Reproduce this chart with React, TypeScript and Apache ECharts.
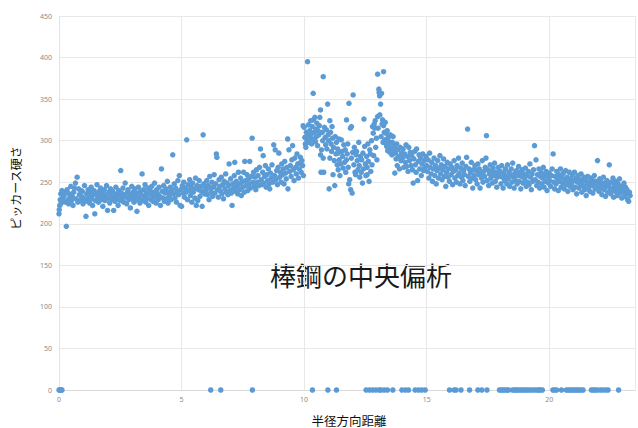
import React, { useEffect, useRef } from "react";
import * as echarts from "echarts";

const TITLE = "棒鋼の中央偏析";
const X_NAME = "半径方向距離";
const Y_NAME = "ピッカース硬さ";
const X_MIN = 0;
const X_MAX = 23.5;
const X_STEP = 5;
const Y_MIN = 0;
const Y_MAX = 450;
const Y_STEP = 50;

// hardness readings, radial distance 0 - 5
const pointsA: number[][] = [
  [0.00,212],[0.01,217],[0.03,222],[0.05,229],[0.07,236],[0.09,225],[0.12,240],[0.15,231],[0.18,227],[0.21,234],[0.24,238],[0.27,226],[0.30,197],[0.33,241],[0.36,229],[0.39,224],[0.42,236],[0.45,232],[0.48,245],[0.51,228],[0.54,233],[0.57,222],[0.60,238],[0.63,243],[0.67,249],[0.70,230],[0.74,256],[0.77,226],[0.80,242],[0.83,235],[0.86,228],[0.89,240],[0.92,233],[0.95,239],[0.98,224],
  [1.01,231],[1.04,246],[1.07,227],[1.10,209],[1.13,236],[1.16,229],[1.19,241],[1.22,233],[1.25,225],[1.28,238],[1.31,244],[1.34,230],[1.37,222],[1.40,235],[1.43,240],[1.46,212],[1.49,228],[1.52,236],[1.55,247],[1.58,232],[1.61,226],[1.64,239],[1.67,234],[1.70,243],[1.73,229],[1.76,237],[1.79,221],[1.82,233],[1.85,241],[1.88,228],[1.91,235],[1.94,246],[1.98,216],
  [2.01,231],[2.04,238],[2.07,225],[2.10,242],[2.13,234],[2.16,229],[2.19,239],[2.23,216],[2.26,233],[2.29,227],[2.32,244],[2.35,236],[2.38,230],[2.41,222],[2.44,240],[2.47,235],[2.50,228],[2.52,264],[2.55,237],[2.58,231],[2.61,243],[2.64,226],[2.67,235],[2.70,249],[2.73,232],[2.76,224],[2.79,238],[2.82,241],[2.85,229],[2.88,236],[2.91,219],[2.94,233],[2.97,245],
  [3.00,230],[3.03,238],[3.06,226],[3.09,242],[3.12,234],[3.15,229],[3.18,215],[3.21,237],[3.24,244],[3.27,231],[3.30,225],[3.33,239],[3.36,235],[3.39,260],[3.42,228],[3.45,241],[3.48,233],[3.51,247],[3.54,226],[3.57,237],[3.60,231],[3.63,243],[3.66,222],[3.69,236],[3.72,240],[3.75,229],[3.78,245],[3.81,234],[3.84,227],[3.87,238],[3.90,249],[3.93,232],[3.96,225],[3.99,241],
  [4.02,236],[4.05,229],[4.08,244],[4.11,233],[4.14,222],[4.18,266],[4.21,239],[4.24,231],[4.27,246],[4.30,227],[4.33,237],[4.36,242],[4.39,230],[4.42,251],[4.45,225],[4.48,238],[4.51,234],[4.54,244],[4.57,229],[4.60,240],[4.64,283],[4.67,236],[4.70,248],[4.73,231],[4.76,243],[4.79,226],[4.82,239],[4.85,252],[4.88,235],[4.91,258],[4.94,222],[4.97,241],
];

// radial distance 5 - 10
const pointsB: number[][] = [
  [5.00,221],[5.03,246],[5.06,237],[5.09,250],[5.12,232],[5.15,243],[5.18,238],[5.21,301],[5.24,229],[5.27,247],[5.30,240],[5.33,253],[5.36,234],[5.39,244],[5.42,226],[5.45,249],[5.48,238],[5.51,242],[5.54,231],[5.57,255],[5.60,222],[5.63,246],[5.66,228],[5.69,241],[5.72,252],[5.75,233],[5.78,245],[5.81,239],[5.84,221],[5.88,307],[5.91,248],[5.94,236],[5.97,243],
  [6.00,240],[6.03,252],[6.06,235],[6.09,246],[6.12,229],[6.15,257],[6.18,243],[6.21,238],[6.24,250],[6.27,233],[6.30,244],[6.33,259],[6.36,237],[6.39,248],[6.42,284],[6.44,280],[6.47,241],[6.50,232],[6.53,253],[6.56,245],[6.59,239],[6.62,256],[6.65,236],[6.68,247],[6.71,230],[6.74,251],[6.77,242],[6.80,260],[6.83,238],[6.86,249],[6.89,235],[6.92,246],[6.94,272],[6.97,240],
  [7.00,254],[7.03,237],[7.06,222],[7.09,248],[7.12,243],[7.15,258],[7.17,274],[7.20,239],[7.23,251],[7.26,245],[7.29,236],[7.32,262],[7.35,248],[7.38,241],[7.41,255],[7.44,234],[7.47,250],[7.50,244],[7.53,262],[7.56,238],[7.58,275],[7.61,252],[7.64,246],[7.67,259],[7.70,240],[7.73,254],[7.76,248],[7.78,275],[7.81,243],[7.84,257],[7.88,303],[7.91,250],[7.94,262],[7.97,245],
  [8.00,256],[8.03,241],[8.06,265],[8.09,250],[8.12,258],[8.15,246],[8.18,268],[8.22,290],[8.25,253],[8.28,247],[8.31,262],[8.33,282],[8.36,249],[8.39,257],[8.42,270],[8.45,244],[8.48,259],[8.51,252],[8.54,266],[8.57,248],[8.60,242],[8.63,261],[8.66,255],[8.69,271],[8.72,250],[8.76,295],[8.79,258],[8.82,289],[8.85,253],[8.88,264],[8.91,247],[8.94,268],[8.97,285],
  [9.00,256],[9.03,262],[9.06,250],[9.09,272],[9.12,259],[9.15,266],[9.18,248],[9.21,275],[9.24,261],[9.27,254],[9.30,268],[9.33,302],[9.34,242],[9.38,289],[9.41,263],[9.44,270],[9.47,257],[9.50,277],[9.53,294],[9.56,265],[9.59,252],[9.62,279],[9.65,268],[9.68,260],[9.71,284],[9.74,272],[9.77,255],[9.80,266],[9.82,273],[9.85,280],[9.88,262],[9.91,276],[9.94,270],[9.97,258],
];

// central segregation zone, radial distance 10 - 14
const pointsC: number[][] = [
  [9.96,318],[10.00,316],[10.03,304],[10.05,296],[10.07,292],[10.09,310],[10.12,300],[10.14,395],[10.16,306],[10.18,319],[10.20,298],[10.23,312],[10.25,303],[10.27,324],[10.29,308],[10.31,296],[10.33,317],[10.35,302],[10.37,357],[10.38,325],[10.41,310],[10.44,328],[10.46,299],[10.48,314],[10.50,305],[10.52,321],[10.55,294],[10.57,312],[10.60,307],[10.62,318],[10.64,328],[10.67,337],[10.67,283],[10.69,262],[10.71,289],[10.74,310],[10.76,300],[10.78,377],[10.78,279],[10.80,262],[10.83,316],[10.86,304],[10.88,295],[10.91,313],[10.93,290],[10.96,344],[10.98,307],
  [11.00,300],[11.02,242],[11.05,324],[11.05,279],[11.08,310],[11.10,296],[11.12,287],[11.14,317],[11.16,303],[11.18,259],[11.20,292],[11.23,276],[11.25,246],[11.27,305],[11.30,284],[11.32,298],[11.35,271],[11.37,290],[11.39,285],[11.39,265],[11.42,302],[11.43,277],[11.46,258],[11.49,272],[11.52,301],[11.55,287],[11.57,281],[11.59,267],[11.62,295],[11.65,274],[11.68,289],[11.70,262],[11.73,325],[11.73,277],[11.76,284],[11.78,296],[11.80,268],[11.82,248],[11.83,345],[11.86,253],[11.89,315],[11.90,241],[11.93,279],[11.93,317],[11.96,237],[11.98,286],
  [12.00,355],[12.03,271],[12.05,292],[12.08,262],[12.10,259],[12.12,283],[12.14,287],[12.17,276],[12.20,265],[12.23,298],[12.25,270],[12.27,256],[12.30,281],[12.33,262],[12.35,277],[12.38,249],[12.40,285],[12.42,266],[12.44,326],[12.47,293],[12.50,272],[12.52,258],[12.55,281],[12.57,268],[12.57,259],[12.60,296],[12.62,275],[12.65,251],[12.68,289],[12.70,284],[12.72,263],[12.75,300],[12.77,271],[12.79,317],[12.82,309],[12.84,282],[12.86,320],[12.88,315],[12.90,324],[12.92,292],[12.95,303],[12.97,277],
  [13.00,380],[13.00,329],[13.02,315],[13.05,362],[13.06,358],[13.08,354],[13.09,331],[13.12,344],[13.14,305],[13.16,357],[13.18,320],[13.20,325],[13.22,298],[13.24,383],[13.24,318],[13.27,310],[13.29,301],[13.31,322],[13.33,309],[13.35,296],[13.37,293],[13.39,312],[13.41,288],[13.43,304],[13.45,299],[13.47,295],[13.50,286],[13.52,307],[13.55,291],[13.58,283],[13.60,298],[13.63,305],[13.66,288],[13.69,293],[13.70,261],[13.72,285],[13.75,278],[13.78,296],[13.80,270],[13.83,289],[13.86,281],[13.89,266],[13.92,292],[13.95,276],[13.98,285],
];

// radial distance 14 - 19
const pointsD: number[][] = [
  [14.01,279],[14.04,290],[14.07,268],[14.10,284],[14.13,274],[14.16,295],[14.18,269],[14.21,281],[14.24,263],[14.27,292],[14.30,276],[14.33,286],[14.36,270],[14.39,282],[14.42,265],[14.45,249],[14.48,278],[14.51,287],[14.54,271],[14.57,262],[14.59,290],[14.63,252],[14.66,275],[14.69,283],[14.72,266],[14.75,279],[14.78,258],[14.81,272],[14.84,284],[14.87,264],[14.90,276],[14.93,268],[14.97,281],
  [15.00,270],[15.03,263],[15.06,277],[15.09,255],[15.12,285],[15.15,268],[15.18,260],[15.21,274],[15.24,251],[15.27,266],[15.30,279],[15.33,258],[15.36,270],[15.39,248],[15.42,264],[15.45,276],[15.48,255],[15.51,267],[15.54,282],[15.57,260],[15.60,271],[15.63,253],[15.66,265],[15.69,278],[15.72,257],[15.75,269],[15.78,245],[15.81,262],[15.84,274],[15.87,256],[15.90,266],[15.93,251],[15.96,272],
  [16.00,259],[16.03,268],[16.06,247],[16.09,263],[16.12,276],[16.15,255],[16.18,265],[16.21,250],[16.24,270],[16.27,258],[16.30,279],[16.33,261],[16.36,248],[16.39,267],[16.42,256],[16.45,273],[16.48,252],[16.51,264],[16.54,259],[16.57,246],[16.60,269],[16.63,280],[16.67,314],[16.70,257],[16.73,266],[16.76,251],[16.79,262],[16.82,274],[16.85,255],[16.88,243],[16.91,265],[16.94,258],[16.97,270],
  [17.00,253],[17.03,264],[17.06,248],[17.09,272],[17.12,259],[17.15,266],[17.18,243],[17.21,261],[17.24,255],[17.27,276],[17.30,250],[17.33,263],[17.36,257],[17.39,268],[17.42,279],[17.44,306],[17.47,252],[17.50,265],[17.53,246],[17.56,260],[17.59,271],[17.62,255],[17.65,263],[17.68,249],[17.71,267],[17.74,258],[17.77,273],[17.80,251],[17.83,262],[17.86,244],[17.89,256],[17.92,268],[17.95,259],
  [18.00,263],[18.03,248],[18.06,270],[18.09,256],[18.12,243],[18.15,261],[18.18,252],[18.21,266],[18.24,257],[18.27,248],[18.30,271],[18.33,254],[18.36,262],[18.39,245],[18.42,259],[18.45,266],[18.48,250],[18.51,273],[18.54,256],[18.57,243],[18.60,261],[18.63,252],[18.66,264],[18.69,248],[18.72,258],[18.75,269],[18.78,251],[18.81,262],[18.84,242],[18.87,257],[18.90,265],[18.93,249],[18.96,260],
];

// radial distance 19 - 23.3
const pointsE: number[][] = [
  [19.00,254],[19.03,267],[19.06,245],[19.09,258],[19.12,250],[19.15,263],[19.18,247],[19.21,272],[19.24,256],[19.27,241],[19.30,260],[19.33,251],[19.36,265],[19.40,294],[19.43,253],[19.46,277],[19.49,246],[19.52,259],[19.55,250],[19.58,266],[19.61,243],[19.64,257],[19.67,262],[19.70,248],[19.73,255],[19.76,268],[19.79,244],[19.82,259],[19.85,251],[19.88,263],[19.91,240],[19.94,256],[19.97,249],
  [20.00,261],[20.03,252],[20.06,245],[20.09,258],[20.12,266],[20.16,284],[20.19,250],[20.22,242],[20.25,257],[20.28,248],[20.31,263],[20.34,254],[20.37,240],[20.40,259],[20.43,251],[20.46,266],[20.49,244],[20.52,256],[20.55,249],[20.58,261],[20.61,242],[20.64,253],[20.67,264],[20.70,247],[20.73,256],[20.76,239],[20.79,251],[20.82,262],[20.85,245],[20.88,254],[20.91,248],[20.94,259],[20.97,241],
  [21.00,252],[21.03,262],[21.06,244],[21.09,255],[21.12,236],[21.15,250],[21.18,258],[21.21,243],[21.24,253],[21.27,247],[21.30,260],[21.33,238],[21.36,251],[21.39,245],[21.42,256],[21.45,241],[21.48,252],[21.51,234],[21.54,248],[21.57,257],[21.60,243],[21.63,250],[21.66,239],[21.69,255],[21.72,246],[21.75,253],[21.78,237],[21.81,249],[21.84,258],[21.87,242],[21.90,251],[21.93,245],[21.97,276],
  [22.00,248],[22.03,239],[22.06,254],[22.09,243],[22.12,250],[22.15,235],[22.18,247],[22.21,256],[22.24,241],[22.27,249],[22.30,233],[22.33,245],[22.36,252],[22.39,238],[22.42,247],[22.45,271],[22.48,243],[22.51,236],[22.54,250],[22.57,241],[22.60,255],[22.63,232],[22.66,246],[22.69,239],[22.72,251],[22.75,243],[22.78,234],[22.81,248],[22.84,240],[22.87,254],[22.90,237],[22.93,245],[22.96,231],[22.99,243],
  [23.02,238],[23.05,249],[23.08,233],[23.11,244],[23.14,236],[23.17,241],[23.20,229],[23.24,227],[23.27,238],[23.30,234],
];

// positions with zero reading
const zeroXs: number[] = [
  0.00, 0.03, 0.06, 0.09, 0.12, 6.19, 6.60, 7.89, 10.34, 10.97, 11.32,
  12.53, 12.67, 12.80, 12.93, 13.07, 13.14, 13.27, 13.40, 13.62, 13.99, 14.13, 14.26,
  14.53, 14.67, 14.80, 14.94, 15.93, 16.12, 16.20, 16.40, 16.75, 17.09, 17.25, 17.46,
  17.97, 18.05, 18.12, 18.20, 18.28, 18.34, 18.50, 18.58, 18.65, 18.72, 18.80, 18.88,
  18.96, 19.04, 19.12, 19.20, 19.30, 19.40, 19.50, 19.57, 19.64, 19.72, 20.15, 20.22,
  20.30, 20.50, 20.70, 20.78, 20.85, 20.92, 21.00, 21.08, 21.15, 21.22, 21.30, 21.38,
  21.72, 21.80, 21.88, 21.96, 22.08, 22.18, 22.30, 22.40, 22.83,
];

export default function App() {
  const ref = useRef<HTMLDivElement>(null);

  useEffect(() => {
    document.body.style.margin = "0";
    if (!ref.current) return;
    const chart = echarts.init(ref.current, undefined, { renderer: "svg" });
    const data = [
      ...pointsA,
      ...pointsB,
      ...pointsC,
      ...pointsD,
      ...pointsE,
      ...zeroXs.map((x) => [x, 0]),
    ];
    chart.setOption({
      animation: false,
      backgroundColor: "#ffffff",
      grid: { left: 59, right: 3, top: 16, bottom: 38, containLabel: false },
      xAxis: {
        type: "value",
        min: X_MIN,
        max: X_MAX,
        interval: X_STEP,
        axisLine: { show: true, lineStyle: { color: "#d9d9d9", width: 1 } },
        axisTick: { show: false },
        splitLine: { show: true, lineStyle: { color: "#e8e8e8", width: 1 } },
        axisLabel: {
          color: "#8a8a8a",
          fontSize: 7,
          margin: 6,
          fontFamily: "Noto Sans",
          showMaxLabel: false,
          formatter: (v: number) => (v % X_STEP === 0 ? String(v) : ""),
        },
      },
      yAxis: {
        type: "value",
        min: Y_MIN,
        max: Y_MAX,
        interval: Y_STEP,
        axisLine: { show: true, lineStyle: { color: "#e3e3e3", width: 1 } },
        axisTick: { show: false },
        splitLine: { show: true, lineStyle: { color: "#e8e8e8", width: 1 } },
        axisLabel: {
          color: "#8a8a8a",
          fontSize: 7,
          margin: 7,
          fontFamily: "Noto Sans",
        },
      },
      series: [
        {
          type: "scatter",
          data,
          symbol: "circle",
          symbolSize: 5.5,
          itemStyle: { color: "#5B9BD5", opacity: 1 },
          silent: true,
        },
      ],
      graphic: [
        {
          type: "text",
          left: 270,
          top: 261,
          style: {
            text: TITLE,
            fontSize: 26,
            fontFamily: "Noto Sans CJK JP",
            fill: "#1a1a1a",
          },
        },
        {
          type: "text",
          x: 349,
          y: 420,
          style: {
            text: X_NAME,
            fontSize: 12.5,
            fontFamily: "Noto Sans CJK JP",
            fill: "#111111",
            align: "center",
            verticalAlign: "middle",
          },
        },
        {
          type: "text",
          x: 15,
          y: 188,
          rotation: Math.PI / 2,
          style: {
            text: Y_NAME,
            fontSize: 12,
            fontFamily: "Noto Sans CJK JP",
            fill: "#111111",
            align: "center",
            verticalAlign: "middle",
          },
        },
      ],
    });
    return () => chart.dispose();
  }, []);

  return <div ref={ref} style={{ width: 638, height: 428 }} />;
}
